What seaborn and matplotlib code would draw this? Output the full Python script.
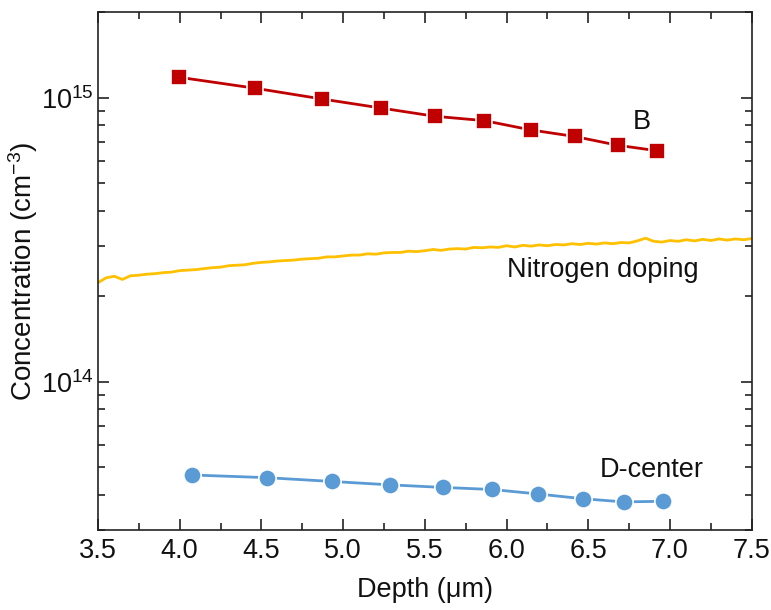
import matplotlib
matplotlib.use("Agg")
import matplotlib.pyplot as plt
import matplotlib.ticker as mticker
import seaborn as sns

# Datos
b_depth = [3.997, 4.460, 4.868, 5.229, 5.561, 5.865, 6.148, 6.417, 6.679, 6.923]
b_conc = [1.18e15, 1.08e15, 9.9e14, 9.2e14, 8.6e14, 8.3e14, 7.7e14, 7.3e14, 6.8e14, 6.5e14]

d_depth = [4.077, 4.532, 4.933, 5.286, 5.612, 5.912, 6.193, 6.465, 6.717, 6.957]
d_conc = [4.69e13, 4.59e13, 4.45e13, 4.33e13, 4.24e13, 4.17e13, 4.02e13, 3.87e13, 3.77e13, 3.79e13]

n_depth = [3.50, 3.55, 3.60, 3.65, 3.70, 3.75, 3.80, 3.85, 3.90, 3.95,
           4.00, 4.05, 4.10, 4.15, 4.20, 4.25, 4.30, 4.35, 4.40, 4.45,
           4.50, 4.55, 4.60, 4.65, 4.70, 4.75, 4.80, 4.85, 4.90, 4.95,
           5.00, 5.05, 5.10, 5.15, 5.20, 5.25, 5.30, 5.35, 5.40, 5.45,
           5.50, 5.55, 5.60, 5.65, 5.70, 5.75, 5.80, 5.85, 5.90, 5.95,
           6.00, 6.05, 6.10, 6.15, 6.20, 6.25, 6.30, 6.35, 6.40, 6.45,
           6.50, 6.55, 6.60, 6.65, 6.70, 6.75, 6.80, 6.85, 6.90, 6.95,
           7.00, 7.05, 7.10, 7.15, 7.20, 7.25, 7.30, 7.35, 7.40, 7.45, 7.50]
n_conc_e14 = [2.23, 2.32, 2.35, 2.29, 2.36, 2.37, 2.39, 2.40, 2.42, 2.43,
              2.46, 2.47, 2.48, 2.50, 2.52, 2.53, 2.56, 2.57, 2.58, 2.61,
              2.63, 2.64, 2.66, 2.67, 2.68, 2.70, 2.71, 2.72, 2.75, 2.75,
              2.77, 2.79, 2.79, 2.82, 2.81, 2.84, 2.85, 2.85, 2.88, 2.87,
              2.89, 2.92, 2.90, 2.93, 2.94, 2.93, 2.97, 2.96, 2.98, 2.97,
              3.01, 2.98, 3.02, 3.00, 3.03, 3.01, 3.04, 3.03, 3.06, 3.04,
              3.07, 3.05, 3.08, 3.06, 3.09, 3.08, 3.13, 3.20, 3.12, 3.10,
              3.14, 3.12, 3.16, 3.13, 3.17, 3.14, 3.18, 3.15, 3.18, 3.16, 3.19]
n_conc = [v * 1e14 for v in n_conc_e14]

sns.set_theme(style="ticks")
plt.rcParams['font.family'] = ['Liberation Sans', 'DejaVu Sans']
plt.rcParams['mathtext.fontset'] = 'custom'
plt.rcParams['mathtext.rm'] = 'Liberation Sans'
plt.rcParams['mathtext.it'] = 'Liberation Sans:italic'
plt.rcParams['mathtext.bf'] = 'Liberation Sans:bold'

fig = plt.figure(figsize=(7.71, 6.10), dpi=100)
ax = fig.add_axes([0.127, 0.131, 0.848, 0.849])

sns.lineplot(x=n_depth, y=n_conc, color='#FFC000', lw=2, ax=ax)
sns.lineplot(x=b_depth, y=b_conc, color='#C00000', lw=2, marker='s', markersize=11,
             markeredgecolor='white', markeredgewidth=1.2, ax=ax)
sns.lineplot(x=d_depth, y=d_conc, color='#5B9BD5', lw=2, marker='o', markersize=12.5,
             markeredgecolor='white', markeredgewidth=1.2, ax=ax)

ax.set_yscale('log')
ax.set_xlim(3.5, 7.5)
ax.set_ylim(3e13, 2e15)
ax.xaxis.set_major_locator(mticker.MultipleLocator(0.5))
ax.xaxis.set_minor_locator(mticker.MultipleLocator(0.25))
ax.xaxis.set_major_formatter(mticker.FormatStrFormatter('%.1f'))
ax.yaxis.set_minor_formatter(mticker.NullFormatter())

ax.tick_params(which='both', direction='in', top=True, right=True, labelsize=19.5,
               width=1.2, color='#222222', labelcolor='#111111')
ax.tick_params(which='major', length=8)
ax.tick_params(which='minor', length=5)
ax.tick_params(axis='x', which='major', pad=6)
ax.tick_params(axis='y', which='major', pad=3)
for s in ax.spines.values():
    s.set_linewidth(1.2)
    s.set_color('#222222')

ax.set_xlabel('Depth (μm)', fontsize=19.5, labelpad=9, color='#111111')
ax.set_ylabel('Concentration (cm$^{-3}$)', fontsize=20, color='#111111')
ax.yaxis.set_label_coords(-0.089, 0.5)

ax.text(6.83, 8.2e14, 'B', fontsize=19.5, ha='center', va='center', color='#111111')
ax.text(6.59, 2.47e14, 'Nitrogen doping', fontsize=19.5, ha='center', va='center', color='#111111')
ax.text(6.89, 4.88e13, 'D-center', fontsize=19.5, ha='center', va='center', color='#111111')

fig.savefig('out.png', dpi=100)
